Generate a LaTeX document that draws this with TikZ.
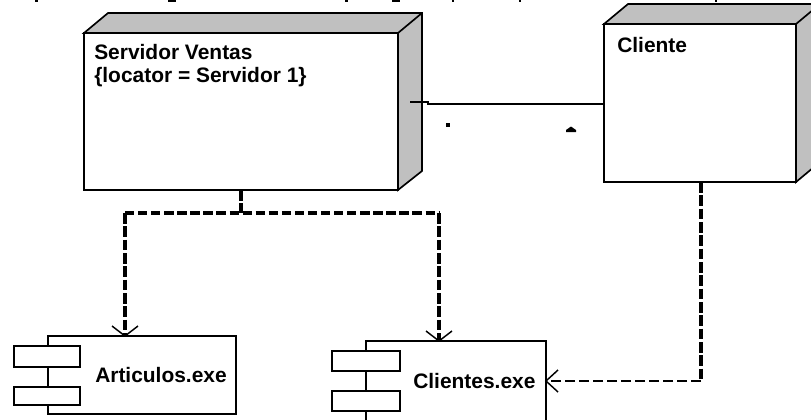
\documentclass[tikz,border=0pt]{standalone}
\usepackage{fontspec}
\setmainfont{Liberation Sans}
\usetikzlibrary{arrows.meta,calc}
\definecolor{sidegray}{RGB}{192,192,192}
\tikzset{x=0.75pt,y=-0.75pt,
 edge/.style={line width=1.25pt,draw=black},
 side/.style={edge,fill=sidegray},
 box/.style 2 args={edge,fill=white,anchor=north west,inner sep=0pt,outer sep=0pt,minimum width=#1*0.75pt,minimum height=#2*0.75pt},
 lbl/.style={font=\bfseries\fontsize{15.7}{17.25}\selectfont,anchor=west,inner sep=0pt,align=left},
 heavyv/.style={line width=3.6pt,dash pattern=on 8pt off 2pt},
 heavyh/.style={line width=2.8pt,dash pattern=on 7pt off 2.8pt},
 lightdash/.style={line width=1.2pt,dash pattern=on 7.5pt off 3pt},
 openhead/.style={line width=1.1pt},
 link/.style={line width=1.25pt},
 speck/.style={fill=black}}
\begin{document}
\begin{tikzpicture}
\useasboundingbox (0,0) rectangle (811,419);
\begin{scope}
\clip (0,0) rectangle (811,419);
% cut-off remains of a caption at the very top
\foreach \px/\pw in {36/3,172/8,346/3,396/8,453/2,520/2,716/2}
  \fill[speck] (\px-\pw/2,0) rectangle (\px+\pw/2,2);
% Servidor Ventas node
\draw[side] (84,33) -- (108,13) -- (422,13) -- (422,171) -- (398,190) -- (398,33) -- cycle;
\node[box={314}{157}] (srv) at (84,33) {};
\draw[edge] (srv.north east) -- (422,13);
\node[lbl,anchor=north west] (srvt) at (94,44) {Servidor Ventas\\\{locator = Servidor 1\}};
% Cliente node
\draw[side] (604,24) -- (628,4) -- (830,4) -- (820,162) -- (796,182) -- (796,24) -- cycle;
\node[box={192}{158}] (cli) at (604,24) {};
\draw[edge] (cli.north east) -- (820,4);
\node[lbl] (clit) at (617,45) {Cliente};
% Association
\coordinate (srvR) at (410,102);
\coordinate (k1) at (428,102);
\coordinate (k2) at (428,104);
\draw[link] (srvR) -- (k1) -- (k2) -- (k2 -| cli.west);
\fill (446,123) rectangle (450,127);
\fill (566,130) -- (571,126.5) -- (576,130) -- (576,132) -- (566,132) -- cycle;
% Components
\node[box={188}{78}] (art) at (48,336) {};
\node[box={66}{21}] (art1) at (14,346) {};
\node[box={66}{18}] (art2) at (14,387) {};
\node[lbl] (artt) at (95,375) {Articulos.exe};
\node[box={180}{90}] (clt) at (366,341) {};
\node[box={68}{20}] (clt1) at (332,351) {};
\node[box={68}{20}] (clt2) at (332,391) {};
\node[lbl] (cltt) at (413,381) {Clientes.exe};
% Dependencies
\coordinate (artT) at ($(art.north west)+(77,0)$);
\coordinate (cltT) at ($(clt.north west)+(73,0)$);
\coordinate (cltR) at (clt.north east |- 0,381);
\coordinate (j) at ($(srv.south)+(0,23)$);
\coordinate (jl) at (artT |- j);
\coordinate (jr) at (cltT |- j);
\coordinate (c0) at ($(cli.south)+(1,0)$);
\coordinate (c1) at ($(c0)+(0,199)$);
\draw[heavyv] (srv.south) -- (j);
\draw[heavyh] (jl) -- (jr);
\draw[heavyv] (jl) -- (artT);
\draw[heavyv] (jr) -- (cltT);
\draw[heavyv] (c0) -- (c1);
\draw[lightdash] (c1) -- (cltR);
% Open arrowheads
\draw[openhead] ($(artT)+(-13,-10)$) -- (artT) -- ($(artT)+(13,-10)$);
\draw[openhead] ($(cltT)+(-13,-10)$) -- (cltT) -- ($(cltT)+(13,-10)$);
\draw[openhead] ($(cltR)+(12,-11)$) -- (cltR) -- ($(cltR)+(12,11)$);
\end{scope}
\end{tikzpicture}
\end{document}
